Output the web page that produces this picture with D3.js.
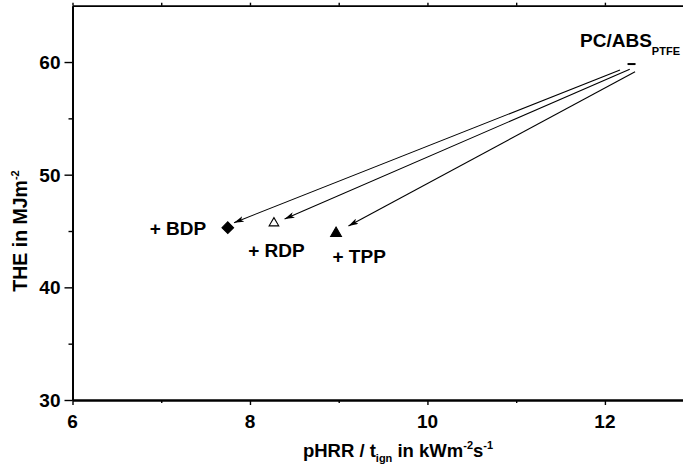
<!DOCTYPE html>
<html><head><meta charset="utf-8">
<script src="https://cdn.jsdelivr.net/npm/d3@7"></script>
<style>
body{margin:0;background:#fff}
svg{display:block}
text{font-family:"Liberation Sans",Arial,Helvetica,sans-serif;font-weight:bold;fill:#000}
</style>
</head><body>
<svg id="c" width="683" height="468"></svg>
<script>
// ---- data ----
const samples   = ["PC/ABS", "+ BDP", "+ RDP", "+ TPP"];
const pHRRtign  = [12.30, 7.75, 8.27, 8.97];   // kW m^-2 s^-1
const THE       = [59.82, 45.30, 45.78, 44.89]; // MJ m^-2
const symbols   = ["dash", "diamond", "triangleOpen", "triangleFilled"];
const labelX    = [11.72, 6.87, 7.98, 8.93];
const labelY    = [61.33, 44.65, 42.70, 42.17];
const arrowFromX = [12.17, 12.28, 12.34];
const arrowFromY = [59.29, 59.35, 59.14];
const arrowToX   = [7.82, 8.39, 9.11];
const arrowToY   = [45.74, 46.07, 45.45];
const xTicks  = [6, 8, 10, 12];
const xMinor  = [7, 9, 11];
const xTop    = [6, 7, 8, 9, 10, 11, 12];
const yTicks  = [30, 40, 50, 60];
const yMinor  = [35, 45, 55];

// ---- layout ----
const svg = d3.select("#c");
const x = d3.scaleLinear().domain([6, 12.88]).range([72.5, 683]);
const y = d3.scaleLinear().domain([30, 65]).range([400, 5.7]);

function stext(parent, px, py, anchor, size, rot) {
  const tr = rot ? `translate(${px},${py}) rotate(-90)` : `translate(${px},${py})`;
  return parent.append("text").attr("transform", tr)
    .attr("text-anchor", anchor).style("font-size", size + "px");
}

// arrow marker
svg.append("defs").append("marker")
  .attr("id", "ah").attr("viewBox", "0 0 10 6").attr("refX", 10).attr("refY", 3)
  .attr("markerWidth", 10).attr("markerHeight", 6).attr("markerUnits", "userSpaceOnUse")
  .attr("orient", "auto")
  .append("path").attr("d", "M0,0 L10,3 L0,6 L2.5,3 Z").attr("fill", "#000");

// ---- axes ----
function styleAxis(g) {
  g.selectAll("path.domain").attr("stroke", "#000").attr("stroke-width", 1.8);
  g.selectAll(".tick line").attr("stroke", "#000").attr("stroke-width", 1.4);
  g.selectAll(".tick text").remove();
}
svg.append("g").attr("transform", `translate(0,${y(30)})`)
  .call(d3.axisBottom(x).tickValues(xTicks).tickSize(5).tickSizeOuter(0)).call(styleAxis);
svg.append("g").attr("transform", `translate(0,${y(30)})`)
  .call(d3.axisBottom(x).tickValues(xMinor).tickSize(3).tickSizeOuter(0)).call(styleAxis);
svg.append("g").attr("transform", `translate(0,${y(65)})`)
  .call(d3.axisTop(x).tickValues(xTop).tickSize(3).tickSizeOuter(0)).call(styleAxis);
svg.append("g").attr("transform", `translate(${x(6)},0)`)
  .call(d3.axisLeft(y).tickValues(yTicks).tickSize(8).tickSizeOuter(0)).call(styleAxis);
svg.append("g").attr("transform", `translate(${x(6)},0)`)
  .call(d3.axisLeft(y).tickValues(yMinor).tickSize(4).tickSizeOuter(0)).call(styleAxis);

// tick labels
xTicks.forEach(v => stext(svg, x(v), 428, "middle", 19).text(v));
yTicks.forEach(v => stext(svg, x(6) - 12, y(v) + 7, "end", 19).text(v));

// axis titles
const xt = stext(svg, 398, 457, "middle", 18.5);
xt.append("tspan").text("pHRR / t");
xt.append("tspan").attr("dy", 5).style("font-size", "11px").text("ign");
xt.append("tspan").attr("dy", -5).text(" in kWm");
xt.append("tspan").attr("dy", -8).style("font-size", "11px").text("-2");
xt.append("tspan").attr("dy", 8).text("s");
xt.append("tspan").attr("dy", -8).style("font-size", "11px").text("-1");

const yt = stext(svg, 27, 231, "middle", 19.5, true);
yt.append("tspan").text("THE in MJm");
yt.append("tspan").attr("dy", -8).style("font-size", "11px").text("-2");

// ---- arrows ----
arrowFromX.forEach((fx, i) => {
  svg.append("line")
    .attr("x1", x(fx)).attr("y1", y(arrowFromY[i]))
    .attr("x2", x(arrowToX[i])).attr("y2", y(arrowToY[i]))
    .attr("stroke", "#000").attr("stroke-width", 1.1)
    .attr("marker-end", "url(#ah)");
});

// ---- markers ----
const shapes = {
  dash: "M-4,0 L4,0",
  diamond: "M0,-5.8 L5.8,0 L0,5.8 L-5.8,0 Z",
  triangleOpen: "M0,-4.6 L4.8,3.6 L-4.8,3.6 Z",
  triangleFilled: "M0,-5.2 L5.4,4.2 L-5.4,4.2 Z"
};
pHRRtign.forEach((v, i) => {
  const s = symbols[i];
  svg.append("path")
    .attr("transform", `translate(${x(v)},${y(THE[i])})`)
    .attr("d", shapes[s])
    .attr("fill", s === "triangleOpen" || s === "dash" ? "none" : "#000")
    .attr("stroke", "#000")
    .attr("stroke-width", s === "dash" ? 2 : 1.1);
});

// ---- labels ----
samples.forEach((name, i) => {
  const t = stext(svg, x(labelX[i]), y(labelY[i]), "start", 19);
  t.append("tspan").text(name);
  if (i === 0) t.append("tspan").attr("dy", 8).style("font-size", "11px").text("PTFE");
});
</script>
</body></html>
